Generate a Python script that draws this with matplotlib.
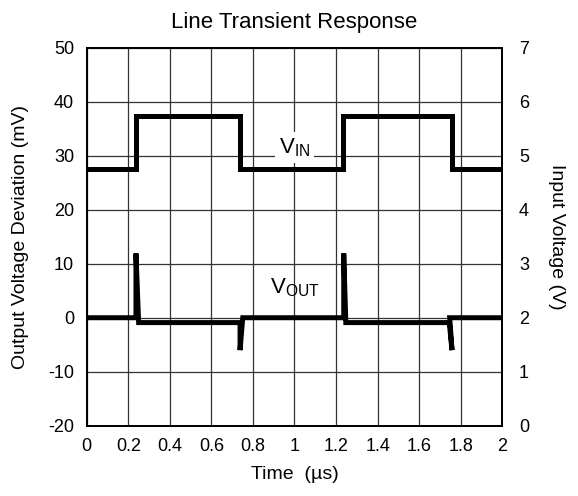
import matplotlib
matplotlib.use("Agg")
import matplotlib.pyplot as plt

# line transient response: input step and output deviation
plt.rcParams['font.family'] = ['Liberation Sans', 'DejaVu Sans']
plt.rcParams['axes.unicode_minus'] = False

vin_t = [0, 0.237, 0.237, 0.738, 0.738, 1.235, 1.235, 1.759, 1.759, 2.0]
vin_v = [4.75, 4.75, 5.74, 5.74, 4.75, 4.75, 5.74, 5.74, 4.75, 4.75]

vout_t = [0, 0.237, 0.237, 0.250, 0.738, 0.738, 0.751, 1.237, 1.237, 1.247, 1.745, 1.758, 1.747, 2.0]
vout_mv = [0, 0, 11.9, -0.9, -0.9, -6.0, 0, 0, 11.9, -0.9, -0.9, -6.0, 0, 0]

xticks = [0, 0.2, 0.4, 0.6, 0.8, 1, 1.2, 1.4, 1.6, 1.8, 2]
xlabels = ["0", "0.2", "0.4", "0.6", "0.8", "1", "1.2", "1.4", "1.6", "1.8", "2"]
left_ticks = [-20, -10, 0, 10, 20, 30, 40, 50]
right_ticks = [0, 1, 2, 3, 4, 5, 6, 7]

fig = plt.figure(figsize=(5.78, 4.96), dpi=100)
ax = fig.add_axes([0.150, 0.1417, 0.719, 0.762])
ax2 = ax.twinx()

ax.set_xlim(0, 2)
ax.set_ylim(-20, 50)
ax2.set_ylim(0, 7)

ax.set_xticks(xticks)
ax.set_xticklabels(xlabels)
ax.set_yticks(left_ticks)
ax2.set_yticks(right_ticks)

ax.grid(True, color="#333333", linewidth=0.9)
ax.tick_params(length=0, labelsize=13, pad=9)
ax2.tick_params(length=0, labelsize=13, pad=12)
for a in (ax, ax2):
    for s in a.spines.values():
        s.set_linewidth(1.3)
        s.set_color("black")

ax.plot(vout_t, vout_mv, color="black", linewidth=3.6, solid_joinstyle="miter",
        solid_capstyle="round", zorder=5)
ax2.plot(vin_t, vin_v, color="black", linewidth=3.6, solid_joinstyle="miter",
         solid_capstyle="round", zorder=5)

ax2.text(1.0, 5.15, r"$\mathregular{V_{IN}}$", fontsize=16, ha="center", va="center",
         bbox=dict(facecolor="white", edgecolor="none", pad=3), zorder=6)
ax.text(1.0, 5.5, r"$\mathregular{V_{OUT}}$", fontsize=16, ha="center", va="center", zorder=6)

ax.set_xlabel("Time  (\u00b5s)", fontsize=14, labelpad=8)
ax.set_ylabel("Output Voltage Deviation (mV)", fontsize=14, labelpad=14)
ax2.set_ylabel("Input Voltage (V)", fontsize=14, rotation=270, labelpad=26)
ax.set_title("Line Transient Response", fontsize=16, pad=14)

fig.savefig("out.png", dpi=100)
